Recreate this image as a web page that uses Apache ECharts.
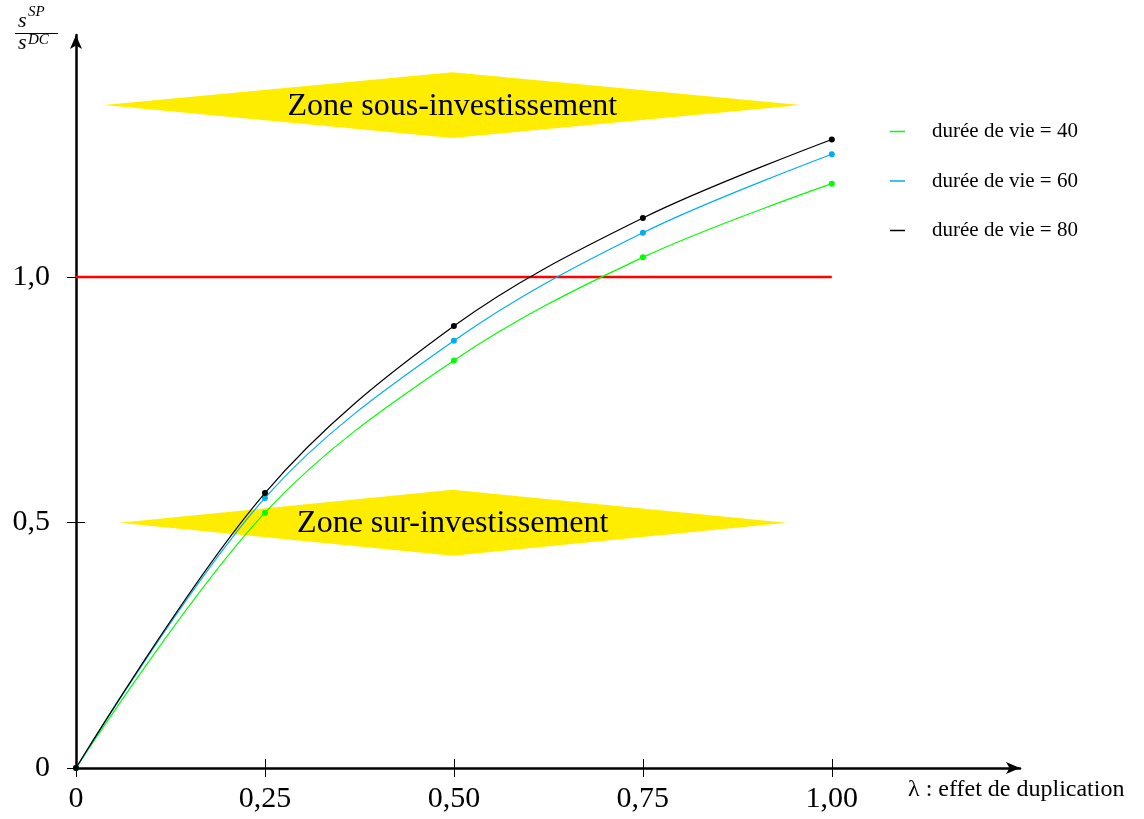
<!DOCTYPE html>
<html><head><meta charset="utf-8">
<script src="https://cdn.jsdelivr.net/npm/echarts@6/dist/echarts.min.js"></script>
<style>html,body{margin:0;padding:0;background:#fff}#c{width:1144px;height:819px}</style>
</head><body><div id="c"></div>
<script>
// λ values (effet de duplication) and the ratio s^SP / s^DC for each lifetime
const lambdaValues = [0, 0.25, 0.5, 0.75, 1.0];
const ratio40 = [0, 0.52, 0.83, 1.04, 1.19];
const ratio60 = [0, 0.55, 0.87, 1.09, 1.25];
const ratio80 = [0, 0.56, 0.90, 1.12, 1.28];
const seriesNames = ['durée de vie = 40', 'durée de vie = 60', 'durée de vie = 80'];
const xTickValues = [0, 0.25, 0.5, 0.75, 1.0];
const xTickLabels = ['0', '0,25', '0,50', '0,75', '1,00'];
const yTickValues = [0, 0.5, 1.0];
const yTickLabels = ['0', '0,5', '1,0'];
const threshold = 1.0;
const zoneLabels = ['Zone sous-investissement', 'Zone sur-investissement'];
const xAxisTitle = 'λ : effet de duplication';

const SERIF = '"Liberation Serif", "DejaVu Serif", serif';
const COLORS = ['#00FF00', '#00AEEF', '#000000'];
// diamond banners in data units: [centre x, centre y, half width, half height]
const zoneShapes = [[0.498, 1.35, 0.461, 0.067], [0.4985, 0.4995, 0.4415, 0.067]];

function lookup(values, labels) {
  return v => {
    const i = values.findIndex(t => Math.abs(t - v) < 1e-9);
    return i >= 0 ? labels[i] : '';
  };
}

const baseX = { type: 'value', min: 0, max: 1.249, splitLine: { show: false } };
const baseY = { type: 'value', min: 0, max: 1.493, splitLine: { show: false } };

const chart = echarts.init(document.getElementById('c'), null, { renderer: 'canvas' });

const curves = [ratio40, ratio60, ratio80].map((vals, k) => ({
  name: seriesNames[k],
  type: 'line',
  smooth: 0.35,
  data: lambdaValues.map((x, i) => [x, vals[i]]),
  symbol: 'circle',
  symbolSize: 6,
  showSymbol: true,
  lineStyle: { color: COLORS[k], width: 1.2 },
  itemStyle: { color: COLORS[k] },
  z: 5 + k
}));

chart.setOption({
  animation: false,
  backgroundColor: '#fff',
  grid: { left: 76, right: 124, top: 34.9, bottom: 51 },
  legend: {
    orient: 'vertical',
    left: 885,
    top: 116,
    itemGap: 28.5,
    itemWidth: 15,
    itemHeight: 1.5,
    icon: 'rect',
    data: seriesNames,
    textStyle: { fontFamily: SERIF, fontSize: 21, lineHeight: 21, color: '#000', padding: [0, 0, 0, 22] }
  },
  xAxis: [
    Object.assign({}, baseX, {
      position: 'bottom',
      axisLine: { show: true, onZero: false, symbol: ['none', 'arrow'], symbolSize: [9, 14],
        lineStyle: { color: '#000', width: 2.5 } },
      axisTick: { show: true, customValues: xTickValues, length: 9, lineStyle: { color: '#000', width: 1 } },
      axisLabel: { customValues: xTickValues, formatter: lookup(xTickValues, xTickLabels),
        margin: 16, fontFamily: SERIF, fontSize: 30, color: '#000' }
    }),
    Object.assign({}, baseX, {
      position: 'bottom',
      axisLine: { show: false },
      axisTick: { show: true, inside: true, customValues: xTickValues, length: 9, lineStyle: { color: '#000', width: 1 } },
      axisLabel: { show: false }
    })
  ],
  yAxis: [
    Object.assign({}, baseY, {
      position: 'left',
      axisLine: { show: true, onZero: false, symbol: ['none', 'arrow'], symbolSize: [9, 14],
        lineStyle: { color: '#000', width: 2.5 } },
      axisTick: { show: true, customValues: yTickValues, length: 9, lineStyle: { color: '#000', width: 1 } },
      axisLabel: { customValues: yTickValues, formatter: lookup(yTickValues, yTickLabels),
        margin: 26, fontFamily: SERIF, fontSize: 30, color: '#000' }
    }),
    Object.assign({}, baseY, {
      position: 'left',
      axisLine: { show: false },
      axisTick: { show: true, inside: true, customValues: yTickValues, length: 9, lineStyle: { color: '#000', width: 1 } },
      axisLabel: { show: false }
    })
  ],
  series: [
    {
      type: 'custom',
      silent: true,
      z: 1,
      data: zoneShapes,
      renderItem(params, api) {
        const cx = api.value(0), cy = api.value(1), hw = api.value(2), hh = api.value(3);
        const l = api.coord([cx - hw, cy]), r = api.coord([cx + hw, cy]);
        const t = api.coord([cx, cy + hh]), b = api.coord([cx, cy - hh]);
        const c = api.coord([cx, cy]);
        return {
          type: 'group',
          children: [
            { type: 'polygon', shape: { points: [l, t, r, b] }, style: { fill: '#FFED00' } },
            { type: 'text', style: { text: zoneLabels[params.dataIndex], x: c[0], y: c[1] + 1,
                align: 'center', verticalAlign: 'middle', font: '32px ' + SERIF, fill: '#000' } }
          ]
        };
      }
    },
    {
      type: 'line',
      name: 'seuil',
      silent: true,
      data: [[0, threshold], [1, threshold]],
      symbol: 'none',
      lineStyle: { color: '#FF0000', width: 2.5 },
      z: 3
    }
  ].concat(curves),
  graphic: [
    { type: 'text', left: 908, top: 778, style: { text: xAxisTitle, font: '24px ' + SERIF, fill: '#000' } },
    // y-axis title: fraction s^SP over s^DC
    { type: 'text', x: 18, y: 10, style: { text: 's', font: 'italic 22px ' + SERIF, fill: '#000' } },
    { type: 'text', x: 28, y: 5, style: { text: 'SP', font: 'italic 15px ' + SERIF, fill: '#000' } },
    { type: 'rect', shape: { x: 15, y: 33, width: 43, height: 1 }, style: { fill: '#000' } },
    { type: 'text', x: 18, y: 32, style: { text: 's', font: 'italic 22px ' + SERIF, fill: '#000' } },
    { type: 'text', x: 28, y: 33, style: { text: 'DC', font: 'italic 15px ' + SERIF, fill: '#000' } }
  ]
});
</script>
</body></html>
